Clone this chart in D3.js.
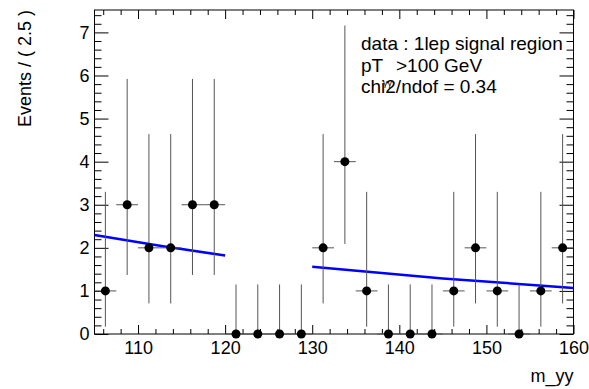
<!DOCTYPE html>
<html>
<head>
<meta charset="utf-8">
<script src="https://cdn.jsdelivr.net/npm/d3@7"></script>
<style>
	body { margin: 0; background: #fff; }
	svg text { font-family: "Liberation Sans", Arial, sans-serif; fill: #000; }
	.axis .domain { display: none; }
	.axis line { stroke: #000; stroke-width: 1; }
</style>
</head>
<body>
<div id="chart"></div>
<script>
// bin centres (2.5 GeV bins from 105 to 160)
const binCenters = [106.25, 108.75, 111.25, 113.75, 116.25, 118.75, 121.25, 123.75, 126.25, 128.75, 131.25,
	133.75, 136.25, 138.75, 141.25, 143.75, 146.25, 148.75, 151.25, 153.75, 156.25, 158.75];
const counts = [1, 3, 2, 2, 3, 3, 0, 0, 0, 0, 2, 4, 1, 0, 0, 0, 1, 2, 1, 0, 1, 2];
// poisson error bars
const errLow = [0.83, 1.63, 1.29, 1.29, 1.63, 1.63, 0, 0, 0, 0, 1.29, 1.91, 0.83, 0, 0, 0, 0.83, 1.29, 0.83, 0, 0.83, 1.29];
const errHigh = [2.30, 2.92, 2.64, 2.64, 2.92, 2.92, 1.15, 1.15, 1.15, 1.15, 2.64, 3.16, 2.30, 1.15, 1.15, 1.15, 2.30, 2.64, 2.30, 1.15, 2.30, 2.64];
const binHalfWidth = 1.25;

// sideband fit curves
const fitLeftX = [105, 112.5, 120];
const fitLeftY = [2.30, 2.05, 1.82];
const fitRightX = [130, 145, 160];
const fitRightY = [1.56, 1.29, 1.07];

const xMajorTicks = [110, 120, 130, 140, 150, 160];
const yMajorTicks = [0, 1, 2, 3, 4, 5, 6, 7];

const legendLines = ["data : 1lep signal region", "pT", "chi2/ndof = 0.34"];

const W = 589, H = 389;
const frame = {left: 94.5, right: 573.5, top: 10, bottom: 334};

const x = d3.scaleLinear().domain([105, 160]).range([frame.left, frame.right]);
const y = d3.scaleLinear().domain([0, 7.52]).range([frame.bottom, frame.top]);

const svg = d3.select("#chart").append("svg")
	.attr("width", W)
	.attr("height", H);

// minor tick values
const xMinor = d3.range(106, 160, 2).filter(v => v % 10 !== 0);
const yMinor = d3.range(0.2, 7.52, 0.2).filter(v => Math.abs(v - Math.round(v)) > 0.01);

// bottom axis
svg.append("g").attr("class", "axis")
	.attr("transform", "translate(0," + frame.bottom + ")")
	.call(d3.axisBottom(x).tickValues(xMajorTicks).tickSize(-9).tickPadding(7).tickFormat(d3.format("d")))
	.call(g => g.selectAll("text").attr("font-size", 18));
svg.append("g").attr("class", "axis")
	.attr("transform", "translate(0," + frame.bottom + ")")
	.call(d3.axisBottom(x).tickValues(xMinor).tickSize(-5).tickFormat(""));

// top axis
svg.append("g").attr("class", "axis")
	.attr("transform", "translate(0," + frame.top + ")")
	.call(d3.axisTop(x).tickValues(xMajorTicks).tickSize(-9).tickFormat(""));
svg.append("g").attr("class", "axis")
	.attr("transform", "translate(0," + frame.top + ")")
	.call(d3.axisTop(x).tickValues(xMinor).tickSize(-5).tickFormat(""));

// left axis
svg.append("g").attr("class", "axis")
	.attr("transform", "translate(" + frame.left + ",0)")
	.call(d3.axisLeft(y).tickValues(yMajorTicks).tickSize(-14).tickPadding(5).tickFormat(d3.format("d")))
	.call(g => g.selectAll("text").attr("font-size", 18));
svg.append("g").attr("class", "axis")
	.attr("transform", "translate(" + frame.left + ",0)")
	.call(d3.axisLeft(y).tickValues(yMinor).tickSize(-7).tickFormat(""));

// right axis
svg.append("g").attr("class", "axis")
	.attr("transform", "translate(" + frame.right + ",0)")
	.call(d3.axisRight(y).tickValues(yMajorTicks).tickSize(-14).tickFormat(""));
svg.append("g").attr("class", "axis")
	.attr("transform", "translate(" + frame.right + ",0)")
	.call(d3.axisRight(y).tickValues(yMinor).tickSize(-7).tickFormat(""));

// frame
svg.append("rect")
	.attr("x", frame.left).attr("y", frame.top)
	.attr("width", frame.right - frame.left).attr("height", frame.bottom - frame.top)
	.attr("fill", "none").attr("stroke", "#000").attr("stroke-width", 1);

// fit lines
const line = d3.line().x(d => x(d[0])).y(d => y(d[1]));
[[fitLeftX, fitLeftY], [fitRightX, fitRightY]].forEach(([xs, ys]) => {
	svg.append("path")
		.datum(xs.map((v, i) => [v, ys[i]]))
		.attr("fill", "none")
		.attr("stroke", "#0000ff")
		.attr("stroke-width", 2.5)
		.attr("d", line);
});

// data points with error bars
const pts = binCenters.map((c, i) => ({c: c, n: counts[i], lo: errLow[i], hi: errHigh[i]}));
const pg = svg.append("g");
pg.selectAll(".ev").data(pts).enter().append("line")
	.attr("x1", d => x(d.c)).attr("x2", d => x(d.c))
	.attr("y1", d => y(d.n - d.lo)).attr("y2", d => y(d.n + d.hi))
	.attr("stroke", "#555").attr("stroke-width", 1);
pg.selectAll(".eh").data(pts).enter().append("line")
	.attr("x1", d => x(d.c - binHalfWidth)).attr("x2", d => x(d.c + binHalfWidth))
	.attr("y1", d => y(d.n)).attr("y2", d => y(d.n))
	.attr("stroke", "#555").attr("stroke-width", 1);
pg.selectAll("circle").data(pts).enter().append("circle")
	.attr("cx", d => x(d.c)).attr("cy", d => y(d.n))
	.attr("r", 4.5).attr("fill", "#000");

// legend text (the tiny subscript overlaps the next line, as in the original)
svg.append("text").attr("x", 361).attr("y", 50).attr("font-size", 19).text(legendLines[0]);
const l2 = svg.append("text").attr("x", 361).attr("y", 71.5).attr("font-size", 19);
l2.append("tspan").text(legendLines[1]);
l2.append("tspan").attr("x", 396).text(">100 GeV");
svg.append("text").attr("x", 383).attr("y", 86).attr("font-size", 9).text("γγ");
svg.append("text").attr("x", 361).attr("y", 93).attr("font-size", 19).text(legendLines[2]);

// axis titles
svg.append("text")
	.attr("transform", "translate(31,10) rotate(-90)")
	.attr("text-anchor", "end")
	.attr("font-size", 18)
	.text("Events / ( 2.5 )");
svg.append("text")
	.attr("x", frame.right).attr("y", 382)
	.attr("text-anchor", "end")
	.attr("font-size", 18)
	.text("m_yy");
</script>
</body>
</html>
